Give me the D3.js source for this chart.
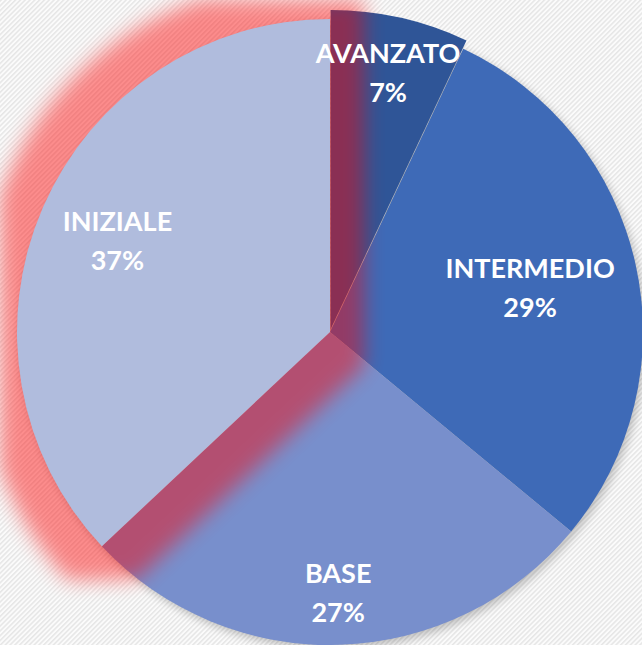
<!DOCTYPE html>
<html>
<head>
<meta charset="utf-8">
<script src="https://cdn.jsdelivr.net/npm/d3@7"></script>
<style>
  html, body { margin: 0; padding: 0; background: #fafafa; }
  svg { display: block; }
</style>
</head>
<body>
<div id="chart"></div>
<script>
// livelli di competenza (ordine di disegno: in senso orario dalle 12)
const categories = ["AVANZATO", "INTERMEDIO", "BASE", "INIZIALE"];
const values = [7, 29, 27, 37];
const colors = ["#2F5597", "#3E6AB7", "#788FCC", "#B0BCDD"];

// dove mettere le etichette, in frazione del raggio
const labelRadius = [0.85, 0.655, 0.83, 0.74];

const width = 642, height = 645;
const cx = 330, cy = 332, radius = 313;

const svg = d3.select("#chart").append("svg")
    .attr("width", width)
    .attr("height", height);

const defs = svg.append("defs");

// sfondo a righe diagonali
const pat = defs.append("pattern")
    .attr("id", "stripes")
    .attr("patternUnits", "userSpaceOnUse")
    .attr("width", 3.4)
    .attr("height", 3.4)
    .attr("patternTransform", "rotate(45)");
pat.append("rect").attr("width", 3.4).attr("height", 3.4).attr("fill", "#fbfbfb");
pat.append("rect").attr("width", 1.5).attr("height", 3.4).attr("fill", "#e6e6e6");

// i filtri lavorano nelle coordinate del gruppo (gia' traslato al centro)
function region(f) {
    return f.attr("filterUnits", "userSpaceOnUse")
        .attr("x", -cx).attr("y", -cy)
        .attr("width", width).attr("height", height);
}

// ombra grigia della torta
const shadow = region(defs.append("filter").attr("id", "shadow"));
shadow.append("feGaussianBlur").attr("stdDeviation", 4);

// bagliore rosso della fetta INIZIALE
const glow = region(defs.append("filter").attr("id", "glow"));
glow.append("feMorphology").attr("operator", "dilate").attr("radius", 34).attr("result", "big");
glow.append("feGaussianBlur").attr("in", "big").attr("stdDeviation", 10);

svg.append("rect")
    .attr("width", width)
    .attr("height", height)
    .attr("fill", "url(#stripes)");

const g = svg.append("g")
    .attr("transform", `translate(${cx}, ${cy})`);

const pie = d3.pie().sort(null).value(d => d);
const arcs = pie(values);

const arc = d3.arc().innerRadius(0).outerRadius(radius);
const arcBig = d3.arc().innerRadius(0).outerRadius(radius + 6);

// ombra sotto tutta la torta
g.append("circle")
    .attr("cx", 3)
    .attr("cy", 4)
    .attr("r", radius)
    .attr("fill", "#000")
    .attr("opacity", 0.22)
    .attr("filter", "url(#shadow)");

function explode(d, dist) {
    const a = (d.startAngle + d.endAngle) / 2;
    return `translate(${Math.sin(a) * dist}, ${-Math.cos(a) * dist})`;
}

// prime tre fette
arcs.slice(0, 3).forEach((d, i) => {
    g.append("path")
        .attr("d", i == 0 ? arcBig(d) : arc(d))
        .attr("transform", i == 0 ? explode(d, 3) : null)
        .attr("fill", colors[i]);
});

// bagliore, poi la fetta INIZIALE sopra
const last = arcs[3];
g.append("path")
    .attr("d", arc(last))
    .attr("fill", "#ff0000")
    .attr("opacity", 0.44)
    .attr("filter", "url(#glow)");

g.append("path")
    .attr("d", arc(last))
    .attr("fill", colors[3]);

// etichette
arcs.forEach((d, i) => {
    const r = radius * labelRadius[i];
    const c = d3.arc().innerRadius(r).outerRadius(r).centroid(d);
    const t = g.append("text")
        .attr("text-anchor", "middle")
        .attr("fill", "#ffffff")
        .style("font-family", "Lato, 'Open Sans', sans-serif")
        .style("font-weight", "bold")
        .style("font-size", "27px");
    t.append("tspan")
        .attr("x", c[0])
        .attr("y", c[1] - 9)
        .text(categories[i]);
    t.append("tspan")
        .attr("x", c[0])
        .attr("y", c[1] + 30)
        .text(values[i] + "%");
});
</script>
</body>
</html>
